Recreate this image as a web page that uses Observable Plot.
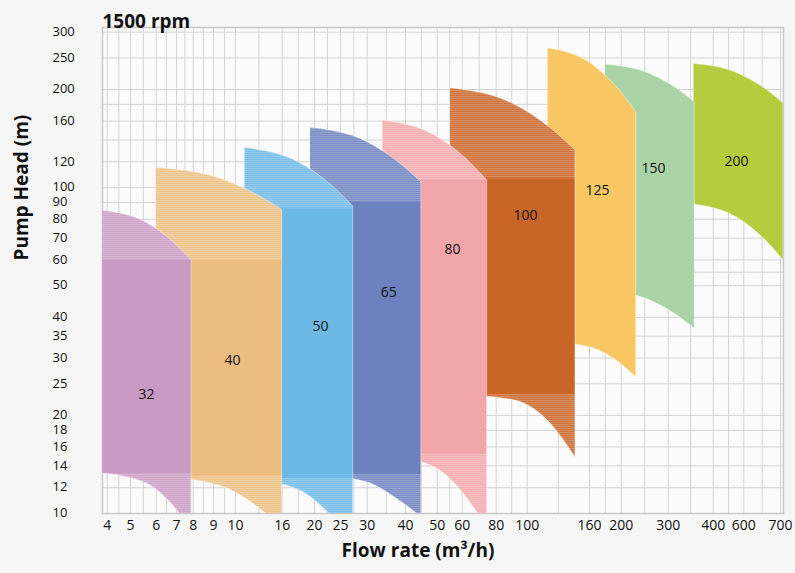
<!DOCTYPE html>
<html>
<head>
<meta charset="utf-8">
<script src="https://cdn.jsdelivr.net/npm/d3@7"></script>
<script src="https://cdn.jsdelivr.net/npm/@observablehq/plot@0.6"></script>
<style>
  html, body { margin: 0; padding: 0; background: #f6f6f6; }
  #chart svg { display: block; }
</style>
</head>
<body>
<div id="chart"></div>
<script>
// ---- axis ticks ----
const flowTicks = [4, 5, 6, 7, 8, 9, 10, 16, 20, 25, 30, 40, 50, 60, 80, 100, 160, 200, 300, 400, 600, 700];
// the flow axis of the original is stretched irregularly: piecewise scale stops (pixels) for each tick
const flowTickStops = [106.7, 130, 155.7, 176, 192.7, 213, 235, 281.7, 314, 340, 366.7, 405, 436.7, 461.7, 495.7, 526.7, 589, 620.7, 667.7, 712.7, 743.3, 780];
const headTicks = [10, 12, 14, 16, 18, 20, 25, 30, 35, 40, 50, 60, 70, 80, 90, 100, 120, 160, 200, 250, 300];
const headGridExtra = [55, 140, 180];

// ---- pump sizes ----
const sizes = ["32", "40", "50", "65", "80", "100", "125", "150", "200"];
const sizeColors = ["#c99bc4", "#ebbe80", "#6cb9e5", "#6d81bf", "#f3a6aa", "#c96527", "#f8c663", "#aad3a7", "#b6cc3f"];

// flow (m3/h) at left edge, two interior points, right edge of each range
const flowPts = [
  [3.8, 5.64, 6.86, 7.9],
  [6, 9.26, 12.76, 16],
  [11.2, 18.08, 23.29, 27.4],
  [19.5, 29.75, 38.33, 45],
  [34.1, 49.3, 62.4, 74.7],
  [55.3, 90.8, 122.4, 146.5],
  [120, 163.2, 196.6, 232],
  [180, 261.6, 319.3, 359],
  [357, 566.3, 659.4, 708]
];
// head (m) of the upper (max impeller) curve at those flows
const headTop = [
  [85.1, 77.9, 67.9, 59.8],
  [115, 106.8, 95, 85.4],
  [132.5, 119.4, 101.6, 87.5],
  [152.6, 138.6, 119.3, 103.9],
  [160.7, 144.5, 122.5, 105.1],
  [201.8, 180.8, 152.3, 130],
  [267.8, 239.1, 200.4, 170.3],
  [238.6, 223.3, 201.3, 182.8],
  [239.8, 223.7, 200.7, 181.5]
];
// head (m) of the lower (min impeller) curve at those flows
const headBottom = [
  [13.27, 12.35, 10.54, 8.87],
  [12.99, 12.17, 10.52, 8.99],
  [12.81, 11.79, 9.8, 8.03],
  [13.17, 12.49, 10.98, 9.75],
  [15.17, 13.83, 11.24, 8.99],
  [23.18, 22.28, 18.9, 14.85],
  [33.66, 32.2, 29.16, 26.19],
  [48.17, 45.06, 40.6, 36.88],
  [88.8, 80.4, 68.9, 59.8]
];
// head where the shaded upper band ends (null = no shaded bands)
const bandTop = [59.8, 59.8, 86.1, 90.2, 105.1, 106.4, null, null, null];

// label positions
const labelFlow = [5.62, 9.86, 21.15, 35.6, 56.1, 98.9, 170, 268.7, 552];
const labelHead = [23.2, 29.5, 37.5, 47.6, 64.6, 82.1, 98, 114.5, 120.3];

// ---- build tables ----
const order = d3.range(sizes.length).reverse(); // big pumps behind, small in front
const regionRows = [];
const topBandRows = [];
const bottomBandRows = [];
for (const i of order) {
  for (let j = 0; j < flowPts[i].length; j++) {
    regionRows.push({size: sizes[i], q: flowPts[i][j], h1: headTop[i][j], h2: headBottom[i][j]});
    if (bandTop[i] != null) {
      topBandRows.push({size: sizes[i], q: flowPts[i][j], h1: headTop[i][j], h2: bandTop[i]});
      bottomBandRows.push({size: sizes[i], q: flowPts[i][j], h1: headBottom[i][0], h2: headBottom[i][j]});
    }
  }
}
const gridFlows = flowTicks.concat(d3.pairs(flowTicks).map(([a, b]) => (a + b) / 2));
const gridHeads = headTicks.concat(headGridExtra);
const labels = sizes.map((s, i) => ({s, q: labelFlow[i], h: labelHead[i]}));

// each region is drawn as its own mark so that layering follows "order"
const regionMarks = [];
for (const i of order) {
  const rows = regionRows.filter(d => d.size === sizes[i]);
  regionMarks.push(Plot.areaY(rows, {x: "q", y1: "h1", y2: "h2", fill: sizeColors[i], stroke: "#ffffff", strokeOpacity: 0.55, strokeWidth: 0.8, curve: "monotone-x", clip: true}));
  if (bandTop[i] != null) {
    regionMarks.push(Plot.areaY(topBandRows.filter(d => d.size === sizes[i]), {x: "q", y1: "h1", y2: "h2", fill: "url(#hatch)", curve: "monotone-x", clip: true}));
    regionMarks.push(Plot.areaY(bottomBandRows.filter(d => d.size === sizes[i]), {x: "q", y1: "h1", y2: "h2", fill: "url(#hatch)", curve: "monotone-x", clip: true}));
  }
}

const svg = Plot.plot({
  width: 795,
  height: 573,
  marginLeft: 102,
  marginRight: 12,
  marginTop: 27,
  marginBottom: 60,
  style: {background: "#f6f6f6", fontFamily: "'Open Sans', 'Noto Sans', sans-serif", color: "#111"},
  x: {type: "linear", domain: flowTicks, range: flowTickStops, axis: null},
  y: {type: "log", domain: [10, 310], axis: null},
  marks: [
    Plot.frame({fill: "#fbfbfb", stroke: null}),
    Plot.ruleX(gridFlows, {stroke: "#d4d4d4", strokeWidth: 1}),
    Plot.ruleY(gridHeads, {stroke: "#d4d4d4", strokeWidth: 1}),
    Plot.frame({stroke: "#c8c8c8", strokeWidth: 1.5}),
    ...regionMarks,
    Plot.text(labels, {x: "q", y: "h", text: "s", fontSize: 14, fill: "#111"}),
    // tick labels
    Plot.text(flowTicks, {x: d => d, text: d => String(d), frameAnchor: "bottom", dy: 16, fontSize: 14, fill: "#111"}),
    Plot.text(headTicks, {y: d => d, text: d => String(d), frameAnchor: "left", dx: -50, textAnchor: "start", fontSize: 13, lineHeight: 0.9, fill: "#111"}),
    // titles
    Plot.text(["1500 rpm"], {frameAnchor: "top-left", dy: -13, textAnchor: "start", fontSize: 19, fontWeight: "bold", fill: "#111"}),
    Plot.text(["Flow rate (m³/h)"], {frameAnchor: "bottom", dx: -25, dy: 43, fontSize: 19, fontWeight: "bold", fill: "#111"}),
    Plot.text(["Pump Head (m)"], {frameAnchor: "left", dx: -81, dy: -10, rotate: -90, fontSize: 19, fontWeight: "bold", fill: "#111"})
  ]
});

d3.select(svg).insert("defs", ":first-child").html(
  `<pattern id="hatch" patternUnits="userSpaceOnUse" width="8" height="2">
     <rect width="8" height="2" fill="#ffffff" fill-opacity="0.10"></rect>
     <rect y="0" width="8" height="0.8" fill="#ffffff" fill-opacity="0.22"></rect>
   </pattern>`
);

document.getElementById("chart").appendChild(svg);
</script>
</body>
</html>
